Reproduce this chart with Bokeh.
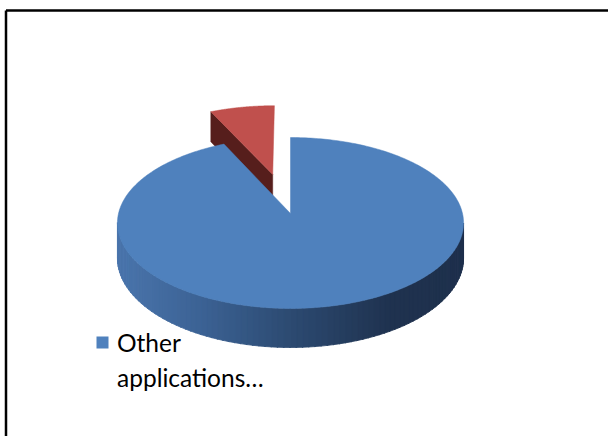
import numpy as np
from bokeh.plotting import figure
from bokeh.models import Range1d
from bokeh.core.properties import value
from bokeh.embed import file_html
from bokeh.resources import INLINE

# ---- data ----
slice_labels = ["Other applications…", "Other"]
slice_values = [93.0, 7.0]
slice_colors = ["#4f81bd", "#c0504d"]
slice_side_colors = ["#2f4f7a", "#561e1c"]
exploded = [0.0, 0.5]
legend_lines = ["Other", "applications…"]

# ---- 3D pie geometry (pixel-like data coordinates) ----
cx, cy = 290.0, 213.0      # centre of the pie top
A, B = 172.0, 84.4         # horizontal / depth radii
k = 0.111                  # perspective factor
D = 34.7                   # thickness


def proj(u, v, h):
    d = 1.0 + k * v
    return cx + A * u / d, cy + (-B * v + D * h) / d


p = figure(width=608, height=436, output_backend="svg", toolbar_location=None,
           x_range=Range1d(0, 608), y_range=Range1d(436, 0), min_border=0)
p.axis.visible = False
p.grid.visible = False
p.outline_line_color = None
p.background_fill_color = "white"
p.border_fill_color = "white"

vals = np.array(slice_values)
fr = vals / vals.sum()
ends = np.cumsum(fr) * 360.0
starts = ends - fr * 360.0


def arc(t0, t1, off, h, n=120):
    th = np.radians(np.linspace(t0, t1, n))
    u = np.sin(th) + off[0]
    v = np.cos(th) + off[1]
    xs, ys = proj(u, v, h)
    return list(xs), list(ys)


# draw exploded (back) slices first, then the main slice
order = [1, 0]
for i in order:
    t0, t1 = starts[i], ends[i]
    mid = np.radians((t0 + t1) / 2)
    off = (exploded[i] * np.sin(mid), exploded[i] * np.cos(mid))
    if exploded[i] > 0:
        # visible cut face at the start angle
        a0 = np.radians(t0)
        tip_t = proj(off[0], off[1], 0)
        tip_b = proj(off[0], off[1], 1)
        e_t = proj(np.sin(a0) + off[0], np.cos(a0) + off[1], 0)
        e_b = proj(np.sin(a0) + off[0], np.cos(a0) + off[1], 1)
        p.patch([tip_t[0], e_t[0], e_b[0], tip_b[0]],
                [tip_t[1], e_t[1], e_b[1], tip_b[1]],
                fill_color=slice_side_colors[i], line_color=slice_side_colors[i], line_width=0.5)
        ax, ay = arc(t0, t1, off, 0)
        tx, ty = proj(off[0], off[1], 0)
        p.patch([tx] + ax + [tx], [ty] + ay + [ty],
                fill_color=slice_colors[i], line_color=slice_colors[i], line_width=0.5)
    else:
        # front side band with horizontal shading
        ts = np.degrees(np.arccos(-k))
        th0 = max(t0, ts)
        th1 = min(t1, 360.0 - ts)
        N = 90
        edges = np.linspace(th0, th1, N + 1)
        xs_l, ys_l, cols = [], [], []
        cstops_x = [117, 200, 290, 390, 464]
        cstops = np.array([[74, 117, 172], [60, 98, 148], [44, 74, 113], [31, 50, 79], [30, 48, 76]])
        for j in range(N):
            a, b = np.radians(edges[j]), np.radians(edges[j + 1] + 0.3)
            x1t, y1t = proj(np.sin(a), np.cos(a), 0)
            x2t, y2t = proj(np.sin(b), np.cos(b), 0)
            x2b, y2b = proj(np.sin(b), np.cos(b), 1)
            x1b, y1b = proj(np.sin(a), np.cos(a), 1)
            xs_l.append([x1t, x2t, x2b, x1b])
            ys_l.append([y1t, y2t, y2b, y1b])
            xm = (x1t + x2t) / 2
            c = [int(round(np.interp(xm, cstops_x, cstops[:, m]))) for m in range(3)]
            cols.append("#%02x%02x%02x" % tuple(c))
        p.patches(xs_l, ys_l, fill_color=cols, line_color=cols, line_width=0.8)
        ax, ay = arc(t0, t1, off, 0, n=360)
        tx, ty = proj(off[0], off[1], 0)
        p.patch([tx] + ax + [tx], [ty] + ay + [ty],
                fill_color=slice_colors[i], line_color=slice_colors[i], line_width=0.5)

# ---- legend ----
p.scatter([102], [342], marker="square", size=12, fill_color=slice_colors[0], line_color=None)
p.text([116.5, 116.5], [342.0, 376.5], text=legend_lines, text_font=value("Lato"),
       text_font_size="24.5px", text_color="#000000", text_baseline="alphabetic", text_align="left")

# ---- chart border ----
p.line([5.5, 608], [10, 10], line_color="black", line_width=2.5)
p.line([5.5, 5.5], [10, 436], line_color="black", line_width=2.5)

open("out.html", "w").write(file_html(p, INLINE))
